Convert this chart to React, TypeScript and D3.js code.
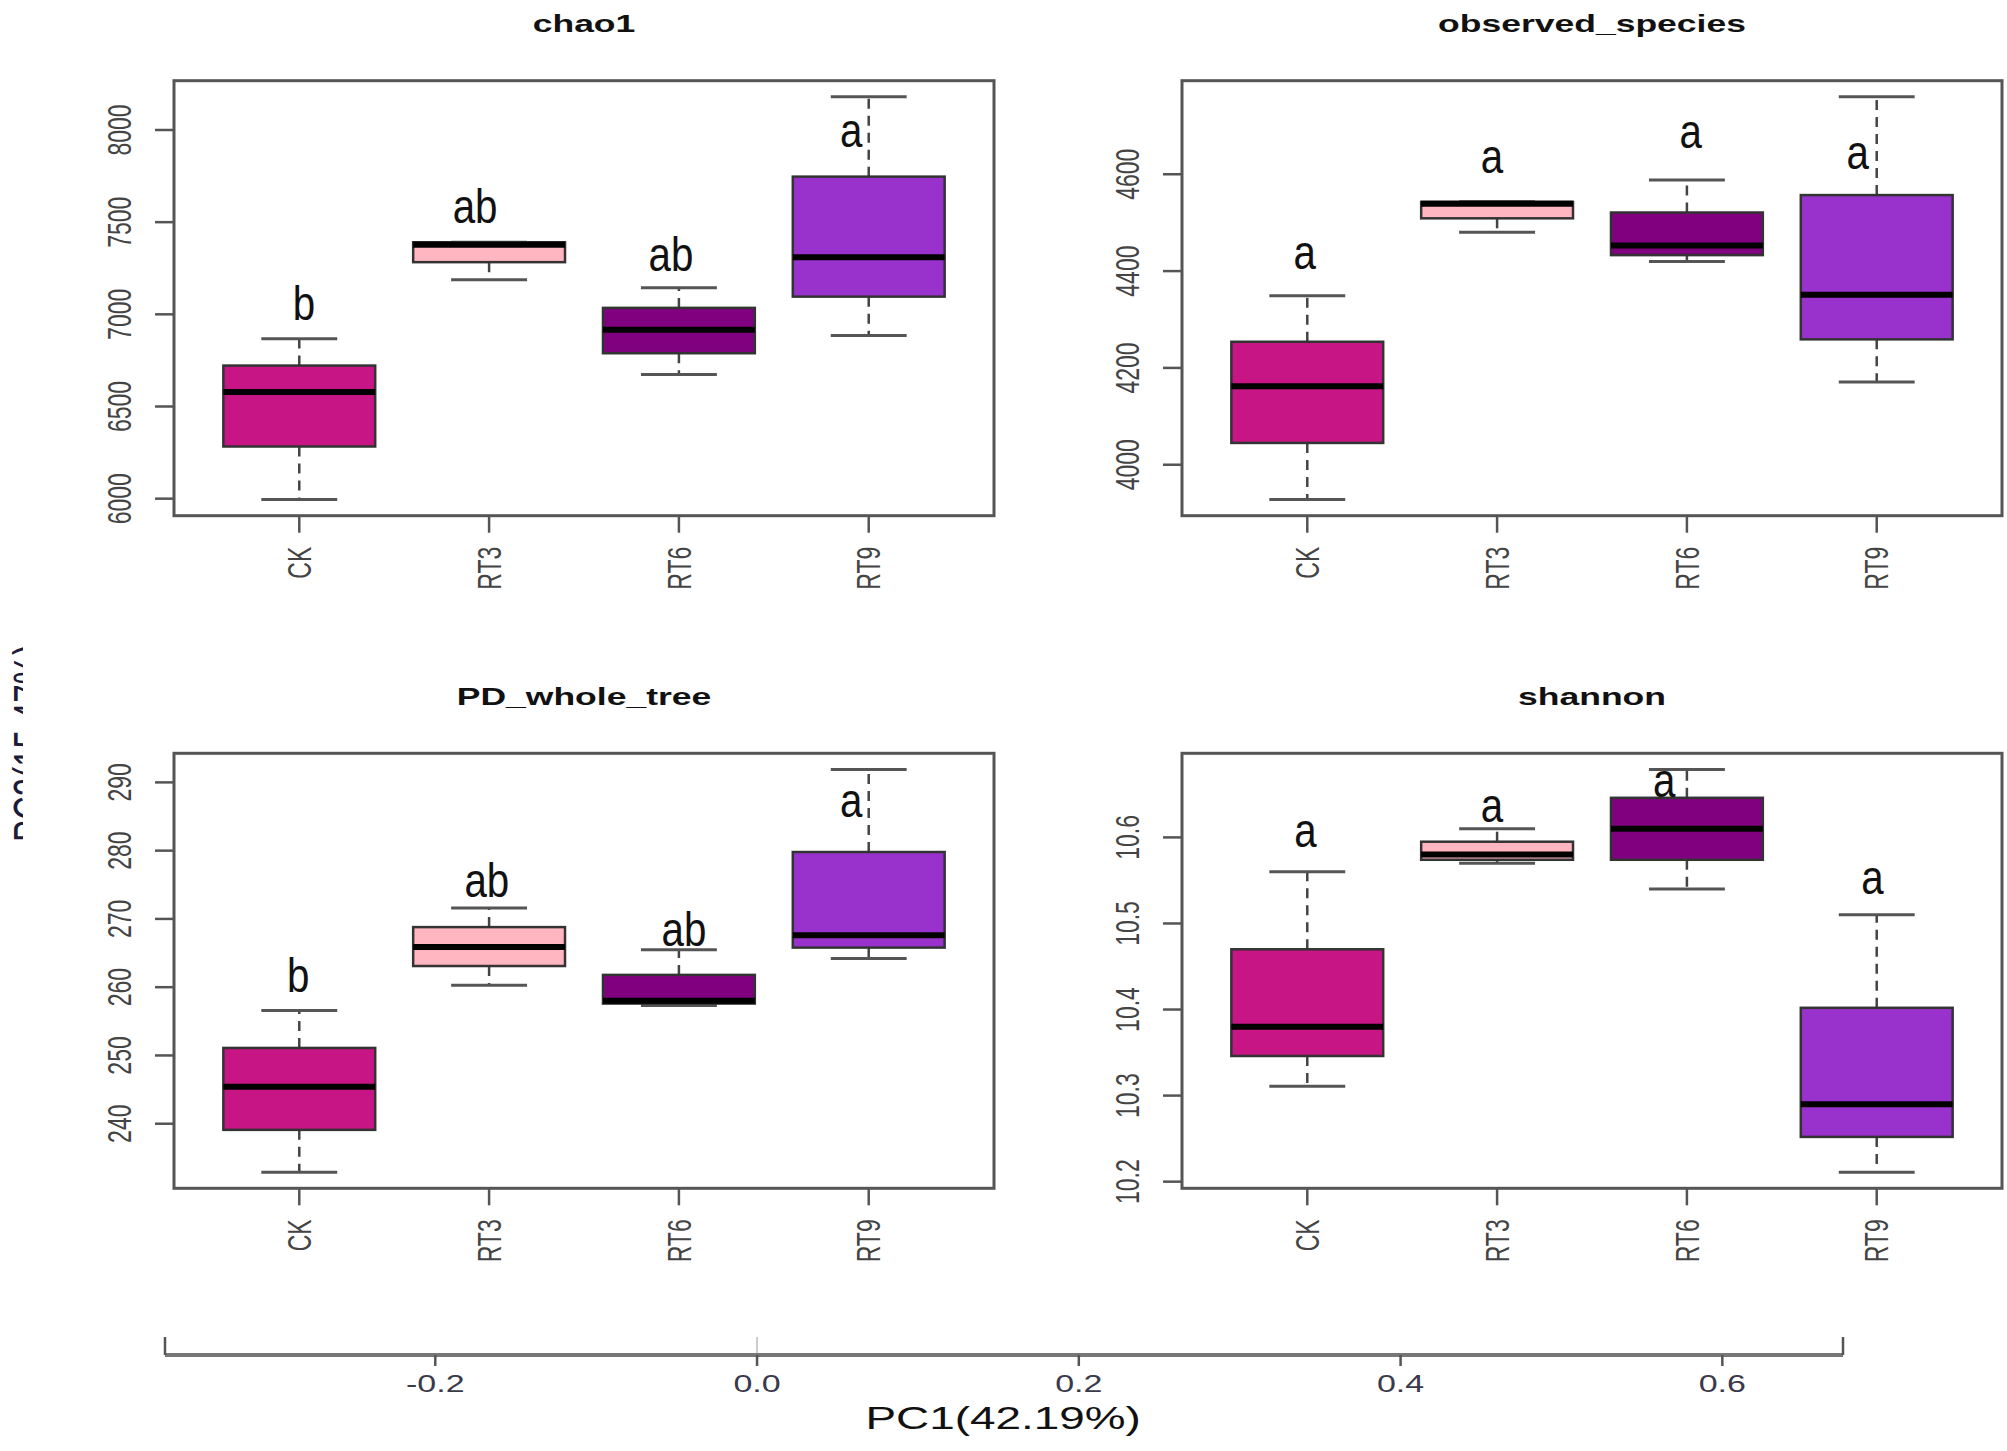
import React from "react";
import * as d3 from "d3";

const groups = ["CK", "RT3", "RT6", "RT9"];
const groupColors = ["#C71585", "#FFB6C1", "#800080", "#9932CC"];

// each row: [lower whisker, Q1, median, Q3, upper whisker]
const chao1Stats = [
  [5995, 6283, 6578, 6722, 6867],
  [7187, 7283, 7378, 7391, 7391],
  [6674, 6789, 6916, 7035, 7144],
  [6885, 7096, 7310, 7747, 8180],
];
const observedStats = [
  [3928, 4045, 4162, 4254, 4349],
  [4480, 4509, 4539, 4543, 4543],
  [4420, 4433, 4453, 4521, 4588],
  [4171, 4259, 4351, 4557, 4760],
];
const pdStats = [
  [232.9, 239.1, 245.4, 251.1, 256.6],
  [260.3, 263.1, 265.9, 268.8, 271.6],
  [257.3, 257.6, 258.0, 261.8, 265.5],
  [264.2, 265.8, 267.6, 279.8, 291.9],
];
const shannonStats = [
  [10.311, 10.346, 10.38, 10.47, 10.56],
  [10.57, 10.574, 10.58, 10.595, 10.61],
  [10.54, 10.574, 10.61, 10.646, 10.679],
  [10.211, 10.252, 10.29, 10.402, 10.51],
];

// significance letters: label, x (group units) and y (data units, visual centre)
const chao1Letters = ["b", "ab", "ab", "a"];
const chao1LetterX = [1.025, 1.926, 2.958, 3.908];
const chao1LetterY = [7066, 7590, 7331, 7978];
const observedLetters = ["a", "a", "a", "a"];
const observedLetterX = [0.986, 1.973, 3.02, 3.9];
const observedLetterY = [4430, 4628, 4681, 4636];
const pdLetters = ["b", "ab", "ab", "a"];
const pdLetterX = [0.995, 1.988, 3.027, 3.908];
const pdLetterY = [261.8, 275.8, 268.6, 286.8];
const shannonLetters = ["a", "a", "a", "a"];
const shannonLetterX = [0.99, 1.973, 2.88, 3.977];
const shannonLetterY = [10.603, 10.632, 10.661, 10.549];

const chao1Ticks = [6000, 6500, 7000, 7500, 8000];
const observedTicks = [4000, 4200, 4400, 4600];
const pdTicks = [240, 250, 260, 270, 280, 290];
const shannonTicks = [10.2, 10.3, 10.4, 10.5, 10.6];

const pcTicks = [-0.2, 0.0, 0.2, 0.4, 0.6];
const pcDomain = [-0.368, 0.675];

const WIDTH = 2007;
const HEIGHT = 1451;
const PLOT_W = 820;
const PLOT_H = 435;
const STRETCH = 1.48; // the figure is stretched horizontally
const FONT = '"Liberation Sans", Arial, Helvetica, sans-serif';

interface PanelSpec {
  title: string;
  stats: number[][];
  letters: string[];
  letterX: number[];
  letterY: number[];
  ticks: number[];
  format: (n: number) => string;
  left: number;
  top: number;
}

const panels: PanelSpec[] = [
  { title: "chao1", stats: chao1Stats, letters: chao1Letters, letterX: chao1LetterX, letterY: chao1LetterY, ticks: chao1Ticks, format: d3.format("d"), left: 174, top: 80.7 },
  { title: "observed_species", stats: observedStats, letters: observedLetters, letterX: observedLetterX, letterY: observedLetterY, ticks: observedTicks, format: d3.format("d"), left: 1182, top: 80.7 },
  { title: "PD_whole_tree", stats: pdStats, letters: pdLetters, letterX: pdLetterX, letterY: pdLetterY, ticks: pdTicks, format: d3.format("d"), left: 174, top: 753.3 },
  { title: "shannon", stats: shannonStats, letters: shannonLetters, letterX: shannonLetterX, letterY: shannonLetterY, ticks: shannonTicks, format: d3.format(".1f"), left: 1182, top: 753.3 },
];

const BoxPanel: React.FC<{ spec: PanelSpec }> = ({ spec }) => {
  const { left, top } = spec;
  const right = left + PLOT_W;
  const bottom = top + PLOT_H;
  const lo = d3.min(spec.stats, d => d[0]) as number;
  const hi = d3.max(spec.stats, d => d[4]) as number;
  const pad = (hi - lo) * 0.04;
  const y = d3.scaleLinear().domain([lo - pad, hi + pad]).range([bottom, top]);
  const x = d3
    .scaleLinear()
    .domain([0.34, groups.length + 0.66])
    .range([left, right]);
  const boxHalf = x(1.4) - x(1);
  const capHalf = x(1.2) - x(1);
  const letterSize = 48;

  return (
    <g>
      <text
        transform={`translate(${(left + right) / 2},${top - 48.5}) scale(${STRETCH},1)`}
        textAnchor="middle"
        fontFamily={FONT}
        fontWeight="bold"
        fontSize={24}
        fill="#111"
      >
        {spec.title}
      </text>
      {spec.stats.map((s, i) => {
        const cx = x(i + 1);
        const [wl, q1, med, q3, wh] = s;
        return (
          <g key={groups[i]}>
            <line x1={cx} x2={cx} y1={y(q3)} y2={y(wh)} stroke="#444" strokeWidth={2.5} strokeDasharray="10,7" />
            <line x1={cx} x2={cx} y1={y(q1)} y2={y(wl)} stroke="#444" strokeWidth={2.5} strokeDasharray="10,7" />
            <line x1={cx - capHalf} x2={cx + capHalf} y1={y(wh)} y2={y(wh)} stroke="#555" strokeWidth={3} />
            <line x1={cx - capHalf} x2={cx + capHalf} y1={y(wl)} y2={y(wl)} stroke="#555" strokeWidth={3} />
            <rect
              x={cx - boxHalf}
              y={y(q3)}
              width={boxHalf * 2}
              height={Math.max(1, y(q1) - y(q3))}
              fill={groupColors[i]}
              stroke="#333"
              strokeWidth={2.5}
            />
            <line x1={cx - boxHalf} x2={cx + boxHalf} y1={y(med)} y2={y(med)} stroke="#000" strokeWidth={6} />
          </g>
        );
      })}
      {spec.letters.map((l, i) => (
        <text
          key={`l${i}`}
          transform={`translate(${x(spec.letterX[i])},${
            y(spec.letterY[i]) + (l.includes("b") ? 0.365 : 0.26) * letterSize
          }) scale(0.84,1)`}
          textAnchor="middle"
          fontFamily={FONT}
          fontSize={letterSize}
          fill="#111"
        >
          {l}
        </text>
      ))}
      <rect x={left} y={top} width={PLOT_W} height={PLOT_H} fill="none" stroke="#555" strokeWidth={3} />
      {spec.ticks.map(t => (
        <g key={t}>
          <line x1={left - 19} x2={left} y1={y(t)} y2={y(t)} stroke="#555" strokeWidth={2.5} />
          <text
            transform={`translate(${left - 55},${y(t)}) scale(${STRETCH},1) rotate(-90)`}
            textAnchor="middle"
            dominantBaseline="central"
            fontFamily={FONT}
            fontSize={23}
            fill="#444"
          >
            {spec.format(t)}
          </text>
        </g>
      ))}
      {groups.map((g, i) => (
        <g key={g}>
          <line x1={x(i + 1)} x2={x(i + 1)} y1={bottom} y2={bottom + 17} stroke="#555" strokeWidth={2.5} />
          <text
            transform={`translate(${x(i + 1)},${bottom + 31}) scale(${STRETCH},1) rotate(-90)`}
            textAnchor="end"
            dominantBaseline="central"
            fontFamily={FONT}
            fontSize={23}
            fill="#444"
          >
            {g}
          </text>
        </g>
      ))}
    </g>
  );
};

const PcAxis: React.FC = () => {
  const x = d3.scaleLinear().domain(pcDomain).range([165, 1843]);
  const axisY = 1355;
  const [x0, x1] = x.range();
  return (
    <g>
      <line x1={x(0)} x2={x(0)} y1={axisY - 18} y2={axisY} stroke="#ccc" strokeWidth={2} />
      <line x1={x0} x2={x1} y1={axisY} y2={axisY} stroke="#777" strokeWidth={4} />
      <line x1={x0} x2={x0} y1={axisY - 18} y2={axisY} stroke="#555" strokeWidth={2.5} />
      <line x1={x1} x2={x1} y1={axisY - 18} y2={axisY} stroke="#555" strokeWidth={2.5} />
      {pcTicks.map(t => (
        <g key={t}>
          <line x1={x(t)} x2={x(t)} y1={axisY} y2={axisY + 11} stroke="#555" strokeWidth={2.5} />
          <text
            transform={`translate(${x(t)},${axisY + 37}) scale(${STRETCH},1)`}
            textAnchor="middle"
            fontFamily={FONT}
            fontSize={23}
            fill="#3a3a4a"
          >
            {d3.format(".1f")(t).replace("−", "-")}
          </text>
        </g>
      ))}
      <text
        transform={`translate(${x(0.153)},1429) scale(${STRETCH},1)`}
        textAnchor="middle"
        fontFamily={FONT}
        fontSize={31}
        fill="#111"
      >
        PC1(42.19%)
      </text>
    </g>
  );
};

const App: React.FC = () => {
  React.useEffect(() => {
    document.body.style.margin = "0";
  }, []);
  return (
    <svg
      width={WIDTH}
      height={HEIGHT}
      viewBox={`0 0 ${WIDTH} ${HEIGHT}`}
      style={{ position: "absolute", left: 0, top: 0, display: "block", background: "#fff" }}
    >
      <defs>
        <clipPath id="pc2clip">
          <rect x={0} y={0} width={23} height={HEIGHT} />
        </clipPath>
      </defs>
      <rect x={0} y={0} width={WIDTH} height={HEIGHT} fill="#fff" />
      <g clipPath="url(#pc2clip)">
        <text
          transform={`translate(47,743) scale(${STRETCH},1) rotate(-90)`}
          textAnchor="middle"
          fontFamily={FONT}
          fontSize={33}
          fill="#1c1c3a"
        >
          PC2(15.47%)
        </text>
      </g>
      {panels.map(p => (
        <BoxPanel key={p.title} spec={p} />
      ))}
      <PcAxis />
    </svg>
  );
};

export default App;
